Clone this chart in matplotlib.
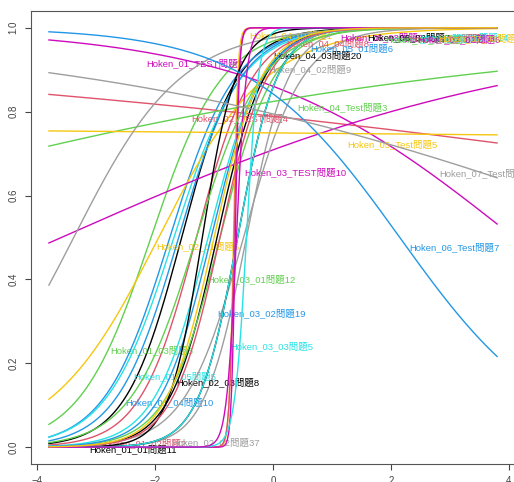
import numpy as np
import matplotlib.pyplot as plt

plt.rcParams['font.family'] = ['Liberation Sans', 'Noto Sans CJK JP']

# item names (plot order = colour order of R's default palette)
names = ["Hoken_01_01問題11", "Hoken_01_02問題2", "Hoken_01_03問題5", "Hoken_01_04問題10",
         "Hoken_01_05問題5", "Hoken_01_TEST問題7", "Hoken_02_01問題6", "Hoken_02_02問題37",
         "Hoken_02_03問題8", "Hoken_02_TEST問題4", "Hoken_03_01問題12", "Hoken_03_02問題19",
         "Hoken_03_03問題5", "Hoken_03_TEST問題10", "Hoken_04_01問題1", "Hoken_04_02問題9",
         "Hoken_04_03問題20", "Hoken_04_04問題8", "Hoken_04_Test問題3", "Hoken_05_01問題6",
         "Hoken_05_02問題4", "Hoken_05_03問題2", "Hoken_05_Test問題5", "Hoken_06_01問題3",
         "Hoken_06_02問題7", "Hoken_06_03問題11", "Hoken_06_04問題9", "Hoken_06_Test問題7",
         "Hoken_07_01問題14", "Hoken_07_02問題6", "Hoken_07_03問題20", "Hoken_07_Test問題2"]

# discrimination / difficulty estimates
a_vals = [2.1, 2.1, 1.65, 1.8, 1.75, -0.445, 1.1, 2.8,
          2.5, -0.0916, 2.2, 1.9, 2.2, 0.248, 28, 2.0,
          3.0, 25, 0.161, 2.3, 3.0, 30, -0.0066, 1.1,
          3.5, 2.5, 1.8, -0.78, 10, 12, 2.5, -0.202]
b_vals = [-1.55, -1.3, -2.07, -1.75, -1.68, 4.09, -1.94, -0.45,
          -0.95, 14.4, -0.9, -1.6, -1.1, -3.59, -0.67, -0.5,
          -0.6, -0.66, -9.6, -1.05, -0.6, -0.64, 166, -3.38,
          -1.2, -0.9, -1.3, 2.15, -0.45, -0.62, -1.0, 6.7]

# label anchor points
label_x = [-2.37, -2.17, -2.05, -1.75, -1.66, -1.32, -1.27, -0.98,
           -0.93, -0.56, -0.37, -0.20, -0.02, 0.37, 0.30, 0.63,
           0.76, 0.93, 1.17, 1.34, 2.75, 1.85, 2.02, 2.90,
           2.30, 3.05, 2.60, 3.08, 3.25, 3.15, 3.55, 3.59]
label_y = [-0.005, 0.010, 0.23, 0.107, 0.17, 0.916, 0.48, 0.012,
           0.155, 0.785, 0.40, 0.32, 0.24, 0.656, 0.982, 0.90,
           0.935, 0.964, 0.81, 0.952, 0.975, 0.978, 0.723, 0.976,
           0.978, 0.975, 0.972, 0.477, 0.977, 0.973, 0.975, 0.652]

palette = ["black", "#DF536B", "#61D04F", "#2297E6", "#28E2E5", "#CD0BBC", "#F5C710", "#9E9E9E"]

theta = np.linspace(-3.8, 3.8, 300)

fig = plt.figure(figsize=(5.14, 4.82), dpi=100)
ax = fig.add_axes([31 / 514, 18 / 482, 484 / 514, 453 / 482])

for i, name in enumerate(names):
    col = palette[i % len(palette)]
    p = 1 / (1 + np.exp(-a_vals[i] * (theta - b_vals[i])))
    ax.plot(theta, p, color=col, lw=1.0, zorder=2 + i * 0.01)
    ax.text(label_x[i], label_y[i], name, color=col, fontsize=6.8,
            ha='center', va='center', zorder=2 + i * 0.01 + 0.005, clip_on=False)

ax.set_xlim(-4.104, 4.104)
ax.set_ylim(-0.04, 1.04)
ax.set_xticks([-4, -2, 0, 2, 4])
ax.set_yticks([0.0, 0.2, 0.4, 0.6, 0.8, 1.0])
ax.set_yticklabels(["0.0", "0.2", "0.4", "0.6", "0.8", "1.0"], rotation=90, va='center')
ax.tick_params(direction='out', length=4, width=0.8, colors='#444', labelsize=7, pad=5)
for s in ax.spines.values():
    s.set_color('#555')
    s.set_linewidth(0.8)

fig.savefig("out.png", dpi=100)
